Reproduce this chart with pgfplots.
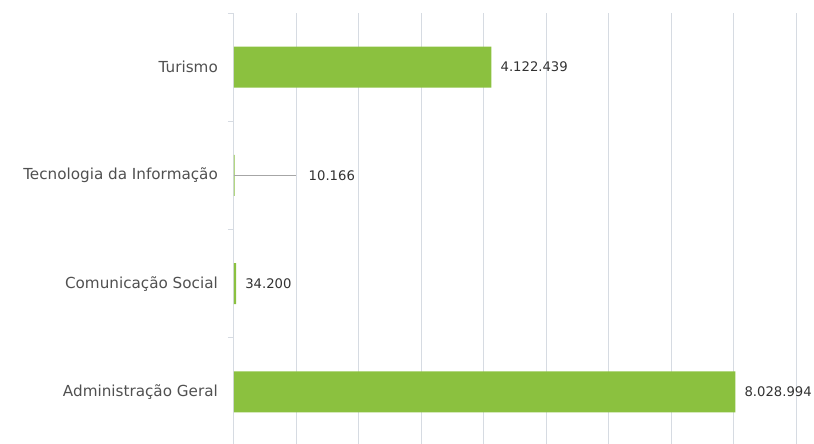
\documentclass[border=0pt]{standalone}
\usepackage{fontspec}
\setmainfont{DejaVu Sans}
\usepackage{pgfplots}
\pgfplotsset{compat=1.18}
\definecolor{barcol}{RGB}{139,193,63}
\definecolor{gridcol}{RGB}{214,219,226}
\definecolor{txtcol}{RGB}{80,80,80}
\definecolor{lblcol}{RGB}{50,50,50}
\begin{document}
\begin{tikzpicture}
\begin{axis}[
  at={(234bp,-2bp)}, anchor=south west,
  scale only axis, width=562bp, height=433bp,
  xmin=0, xmax=9000000,
  ymin=-0.5, ymax=3.5,
  axis x line*=bottom, axis y line*=left,
  x axis line style={draw=none},
  y axis line style={draw=gridcol, line width=1bp},
  xtick={0,1000000,2000000,3000000,4000000,5000000,6000000,7000000,8000000,9000000},
  xticklabels={}, xtick style={draw=none},
  xmajorgrids=true,
  major grid style={draw=gridcol, line width=1bp},
  ytick={0,1,2,3},
  yticklabels={Administração Geral,Comunicação Social,Tecnologia da Informação,Turismo},
  minor ytick={-0.5,0.5,1.5,2.5,3.5},
  major tick length=0pt, minor tick length=6bp,
  tick align=outside,
  minor tick style={draw=gridcol, line width=1bp},
  yticklabel style={font=\fontsize{15.2bp}{18bp}\selectfont, text=txtcol, inner sep=0pt, xshift=-16bp},
  clip=false,
]
\addplot[xbar, bar width=41bp, fill=barcol, draw=none,
  nodes near coords, point meta=explicit symbolic,
  every node near coord/.append style={anchor=west, inner sep=0pt, xshift=9bp,
    font=\fontsize{13.2bp}{16bp}\selectfont, text=lblcol}]
  coordinates {(8028994,0) [8.028.994] (34200,1) [34.200] (10166,2) [] (4122439,3) [4.122.439]};
\addplot[draw=gray!70, line width=0.6bp, mark=none,
  nodes near coords, point meta=explicit symbolic,
  every node near coord/.append style={anchor=west, inner sep=0pt, xshift=12bp,
    font=\fontsize{13.2bp}{16bp}\selectfont, text=lblcol}]
  coordinates {(0,2) [] (1000000,2) [10.166]};
\end{axis}
\pgfresetboundingbox
\path (0,0) rectangle (814bp,444bp);
\end{tikzpicture}
\end{document}
